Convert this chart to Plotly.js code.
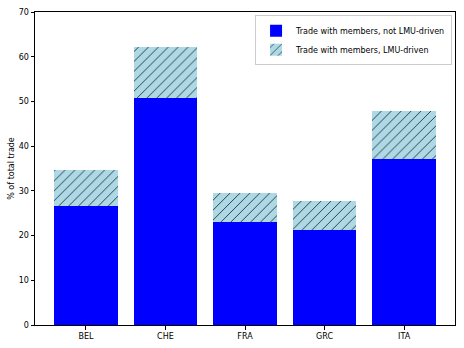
<!DOCTYPE html>
<html><head><meta charset="utf-8">
<script src="https://cdn.plot.ly/plotly-3.0.1.min.js"></script>
<style>html,body{margin:0;padding:0;background:#fff}#c{width:464px;height:348px}</style>
</head><body><div id="c"></div>
<script>
const countries = ["BEL", "CHE", "FRA", "GRC", "ITA"];
const notLMU = [26.6, 50.8, 23.0, 21.2, 37.1];
const lmu = [8.1, 11.4, 6.6, 6.6, 10.8];
const yTicks = [0, 10, 20, 30, 40, 50, 60, 70];

const font = {family: "DejaVu Sans", size: 8, color: "#000"};
const data = [
  {type: "bar", x: countries, y: notLMU, name: "Trade with members, not LMU-driven",
   width: 0.8, marker: {color: "#0000ff", line: {width: 0}}},
  {type: "bar", x: countries, y: lmu, name: "Trade with members, LMU-driven",
   width: 0.8, marker: {color: "lightblue", line: {width: 0},
     pattern: {shape: "/", bgcolor: "lightblue", fgcolor: "#000", size: 7, solidity: 0.1}}}
];
const layout = {
  width: 464, height: 348, barmode: "stack",
  margin: {l: 35, r: 9, t: 12, b: 23},
  paper_bgcolor: "#fff", plot_bgcolor: "#fff",
  font: font, showlegend: true,
  legend: {x: 0.993, y: 0.99, xanchor: "right", yanchor: "top", traceorder: "normal",
    bgcolor: "rgba(255,255,255,0.8)", bordercolor: "#ccc", borderwidth: 1,
    font: {family: "DejaVu Sans", size: 8, color: "#000"}, tracegroupgap: 0},
  xaxis: {type: "category", range: [-0.64, 4.64], showline: true, mirror: true, linecolor: "#000",
    linewidth: 1, ticks: "outside", ticklen: 3.5, tickcolor: "#000", showgrid: false,
    tickfont: font, fixedrange: true},
  yaxis: {range: [0, 70], tickvals: yTicks, showline: true, mirror: true, linecolor: "#000",
    linewidth: 1, ticks: "outside", ticklen: 3.5, tickcolor: "#000", showgrid: false, zeroline: false,
    tickfont: font, title: {text: "% of total trade", font: font, standoff: 2}}
};
Plotly.newPlot("c", data, layout, {displayModeBar: false, staticPlot: true});
</script></body></html>
